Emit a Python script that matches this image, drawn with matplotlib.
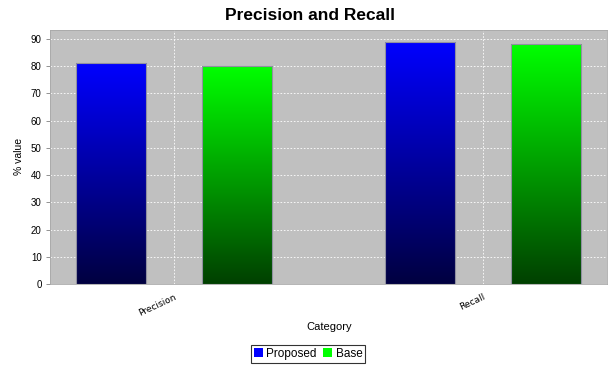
import numpy as np
import matplotlib
matplotlib.use("Agg")
import matplotlib.pyplot as plt
from matplotlib.colors import LinearSegmentedColormap
from matplotlib.patches import Patch

plt.rcParams['font.family'] = ['Liberation Sans', 'DejaVu Sans']

categories = ["Precision", "Recall"]
series_names = ["Proposed", "Base"]
proposed = [81, 89]
base = [80, 88]
series_values = [proposed, base]
y_ticks = [0, 10, 20, 30, 40, 50, 60, 70, 80, 90]

# gradient end colours per series: bright at top, dark at the base
top_colors = [(0.0, 0.0, 1.0), (0.0, 1.0, 0.0)]
bottom_colors = [(0.0, 0.0, 64 / 255), (0.0, 64 / 255, 0.0)]

fig = plt.figure(figsize=(6.08, 3.65), dpi=100)
ax = fig.add_axes([50 / 608, 1 - 284 / 365, 557 / 608, (284 - 29.5) / 365])
ax.set_facecolor("#c0c0c0")

x = np.arange(len(categories))
bar_w = 0.227
offsets = [-0.204, 0.204]

for s, vals in enumerate(series_values):
    bars = ax.bar(x + offsets[s], vals, width=bar_w, color="none",
                  edgecolor="#9090a0", linewidth=0.8, zorder=3)
    cmap = LinearSegmentedColormap.from_list(
        f"grad{s}", [bottom_colors[s], top_colors[s]])
    grad = np.linspace(0, 1, 256).reshape(-1, 1)
    for b in bars:
        x0, y0 = b.get_x(), b.get_y()
        w, h = b.get_width(), b.get_height()
        im = ax.imshow(grad, cmap=cmap, origin="lower", aspect="auto",
                       extent=(x0, x0 + w, y0, y0 + h), zorder=2,
                       interpolation="bilinear")
        im.set_clip_path(b)

ymax = max(max(v) for v in series_values) * 1.05
ax.set_xlim(-0.403, 1.403)
ax.set_ylim(0, ymax)
ax.set_yticks(y_ticks)
ax.set_xticks(x)

ax.grid(True, color="white", linestyle=(0, (2, 2)), linewidth=0.6, zorder=1)
ax.set_axisbelow(True)
for sp in ax.spines.values():
    sp.set_color("#a8a8a8")
    sp.set_linewidth(0.6)

ax.tick_params(axis="y", labelsize=7, length=3, width=0.6, color="#808080",
               pad=3)
ax.tick_params(axis="x", length=0, pad=6)
ax.set_xticklabels(categories, rotation=25, ha="right",
                   rotation_mode="anchor", fontsize=6.5,
                   family=["DejaVu Sans"])

# axis titles placed in figure coordinates
fig.text(19 / 608, 1 - 156 / 365, "% value", rotation=90, ha="center",
         va="center", fontsize=7.5)
fig.text(329 / 608, 1 - 326.5 / 365, "Category", ha="center", va="center",
         fontsize=8)

fig.text(310 / 608, 1 - 15 / 365, "Precision and Recall", ha="center",
         va="center", fontsize=12.5, fontweight="bold")

handles = [Patch(facecolor=top_colors[i], edgecolor="none", label=series_names[i])
           for i in range(len(series_names))]
leg = fig.legend(handles=handles, loc="center", ncol=2,
                 bbox_to_anchor=(308 / 608, 1 - 353.7 / 365),
                 fontsize=8.5, frameon=True, fancybox=False,
                 handlelength=0.8, handleheight=0.8, handletextpad=0.3,
                 columnspacing=0.5, borderpad=0.25, borderaxespad=0)
leg.get_frame().set_edgecolor("black")
leg.get_frame().set_linewidth(0.8)

fig.savefig("out.png", dpi=100)
